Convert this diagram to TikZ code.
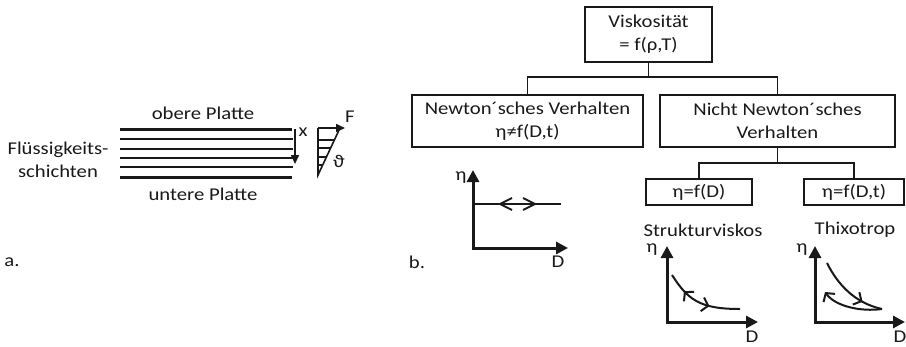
\documentclass[tikz,border=0pt]{standalone}
\usepackage{fontspec}
\setmainfont{Carlito}[FakeStretch=1.15]
\usetikzlibrary{arrows.meta,decorations.markings}
\tikzset{barb/.tip={Straight Barb[length=6pt,width=14pt]}}
\begin{document}
\begin{tikzpicture}[x=1pt,y=-1pt,
  every node/.style={font=\fontsize{18}{23}\selectfont, inner sep=0pt, text=black!90},
  box/.style={draw=black!90, line width=1.5pt, align=center},
  conn/.style={draw=black!90, line width=1.5pt},
  axis/.style={draw=black!90, line width=3pt, {Triangle[length=12pt,width=12pt]}-{Triangle[length=12pt,width=12pt]}},
  plate/.style={draw=black!90, line width=3pt},
  layer/.style={draw=black!90, line width=1.6pt},
  curve/.style={draw=black!90, line width=2pt},
  chev/.style={draw=black!90, line width=2pt},
  fwd/.style={postaction={decorate, decoration={markings, mark=at position #1 with {\arrow{barb}}}}},
  bwd/.style={postaction={decorate, decoration={markings, mark=at position #1 with {\arrowreversed{barb}}}}}]
\useasboundingbox (0,0) rectangle (906,346);

% ---------- part a ----------
\node (obere) at (203,113) {obere Platte};
\node (untere) at (203,194) {untere Platte};
\node[align=center] (fluess) at (58,160) {Flüssigkeits-\\schichten};
\draw[plate] (120,129) -- (292,129);
\foreach \yy in {139,149,158,167} \draw[layer] (120,\yy) -- (293,\yy);
\draw[plate] (120,177) -- (292,177);
\coordinate (xa) at (295,129);
\coordinate (xb) at (295,164);
\draw[layer, -{Triangle[length=9pt,width=8pt]}] (xa) -- (xb);
\node (xlab) at (303,132) {x};
% velocity triangle
\coordinate (t0) at (318,175);
\coordinate (t1) at (318,128);
\coordinate (t2) at (340,128);
\draw[layer] (t1) -- (t0) -- (t2);
\draw[layer, -{Triangle[length=9pt,width=8pt]}] (t1) -- (345,128);
\foreach \yy in {140,148,157,165} \draw[layer] (318,\yy) -- ({318+(175-\yy)*0.468},\yy);
\node (Flab) at (350,117) {F};
\node (thlab) at (339,161) {ϑ};
\node (alab) at (12,262) {a.};

% ---------- part b ----------
\node (blab) at (417,262) {b.};
\node[box, minimum width=127pt, minimum height=55pt] (visk) at (648.5,34.5) {Viskosität\\= f(ρ,T)};
\node[box, minimum width=231pt, minimum height=52pt] (newt) at (527.5,121) {Newton´sches Verhalten\\η≠f(D,t)};
\node[box, minimum width=235pt, minimum height=52pt] (nicht) at (777.5,121) {Nicht Newton´sches\\Verhalten};
\node[box, minimum width=106pt, minimum height=26pt] (fd) at (699,192) {η=f(D)};
\node[box, minimum width=100pt, minimum height=26pt] (fdt) at (854,192) {η=f(D,t)};
\coordinate (j1) at (648.5,77);
\coordinate (j2) at (777.5,163);
\draw[conn] (visk.south) -- (j1);
\draw[conn] (newt.north) |- (j1) -| (nicht.north);
\draw[conn] (nicht.south) -- (j2);
\draw[conn] (fd.north) |- (j2) -| (fdt.north);

% Newtonian plot
\draw[axis] (473,170) |- (568,248);
\node (eta1) at (461,178) {η};
\node (D1) at (558,262) {D};
\draw[curve] (473,204) -- (561,204);
\draw[chev] (512,198) -- (500,204) -- (512,210);
\draw[chev] (523,198) -- (535,204) -- (523,210);

% Strukturviskos
\node (sv) at (703,230) {Strukturviskos};
\draw[axis] (667,246) |- (758,322);
\node (eta2) at (652,250) {η};
\node (D2) at (752,337) {D};
\draw[curve, bwd=0.25, fwd=0.62] (672,275) .. controls (688,300) and (700,309) .. (740,309);

% Thixotrop
\node (th) at (855,230) {Thixotrop};
\draw[axis] (815,246) |- (905,322);
\node (eta3) at (802,250) {η};
\node (D3) at (900,337) {D};
\draw[curve, fwd=0.72] (827,263) .. controls (838,285) and (855,303) .. (882,309);
\draw[curve, -{barb}] (882,309) .. controls (860,312) and (835,306) .. (825,292);
\end{tikzpicture}
\end{document}
